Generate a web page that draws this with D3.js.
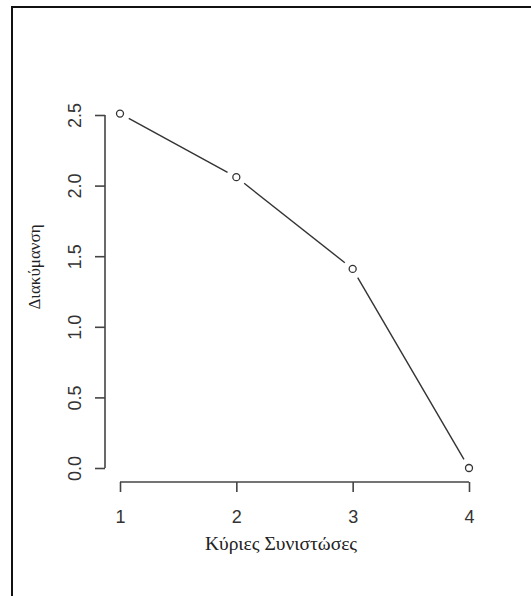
<!DOCTYPE html>
<html>
<head>
<meta charset="utf-8">
<script src="https://cdn.jsdelivr.net/npm/d3@7"></script>
<style>
  html, body { margin: 0; padding: 0; background: #fff; }
  svg { display: block; }
</style>
</head>
<body>
<svg id="chart" width="531" height="596"></svg>
<script>
const components = [1, 2, 3, 4];
const variance = [2.51, 2.06, 1.41, 0.0];
const xTicks = [1, 2, 3, 4];
const yTicks = [0.0, 0.5, 1.0, 1.5, 2.0, 2.5];
const xTitle = "Κύριες Συνιστώσες";
const yTitle = "Διακύμανση";

const svg = d3.select("#chart");

// outer frame (only top and left visible)
svg.append("rect")
  .attr("x", 12).attr("y", 7)
  .attr("width", 560).attr("height", 640)
  .attr("fill", "none").attr("stroke", "#111").attr("stroke-width", 2);

const x = d3.scaleLinear().domain([1, 4]).range([120, 469]);
const y = d3.scaleLinear().domain([0, 2.5]).range([468, 115]);

const tickFont = "'Liberation Sans', Arial, sans-serif";
const titleFont = "'Liberation Serif', 'Times New Roman', serif";

// x axis
const xAxisG = svg.append("g").attr("transform", "translate(0,482)")
  .call(d3.axisBottom(x).tickValues(xTicks).tickFormat(d3.format("d")).tickSize(10).tickSizeOuter(0));
xAxisG.select(".domain").attr("d", `M${x(1)},0H${x(4)}`);
xAxisG.selectAll("path,line").attr("stroke", "#444").attr("stroke-width", 1.6);
xAxisG.selectAll(".tick text")
  .attr("font-family", tickFont).attr("font-size", 18).attr("fill", "#333")
  .attr("y", 41).attr("dy", null);

// y axis
const yAxisG = svg.append("g").attr("transform", "translate(105,0)")
  .call(d3.axisLeft(y).tickValues(yTicks).tickFormat(d3.format(".1f")).tickSize(10).tickSizeOuter(0));
yAxisG.select(".domain").attr("d", `M0,${y(0)}V${y(2.5)}`);
yAxisG.selectAll("path,line").attr("stroke", "#444").attr("stroke-width", 1.6);
yAxisG.selectAll(".tick text")
  .attr("font-family", tickFont).attr("font-size", 18).attr("fill", "#333")
  .attr("x", null).attr("dy", null)
  .attr("text-anchor", "middle")
  .attr("transform", "translate(-30,0) rotate(-90)")
  .attr("dominant-baseline", "central");

// titles
svg.append("text")
  .attr("x", 281).attr("y", 550)
  .attr("text-anchor", "middle")
  .attr("font-family", titleFont).attr("font-size", 19.5).attr("fill", "#222")
  .text(xTitle);

svg.append("text")
  .attr("transform", "translate(40,267) rotate(-90)")
  .attr("text-anchor", "middle")
  .attr("font-family", titleFont).attr("font-size", 17).attr("fill", "#222")
  .text(yTitle);

// data
const pts = components.map((c, i) => [x(c), y(variance[i])]);
const gap = 10;
const segs = [];
for (let i = 0; i < pts.length - 1; i++) {
  const [x0, y0] = pts[i], [x1, y1] = pts[i + 1];
  const dx = x1 - x0, dy = y1 - y0, L = Math.hypot(dx, dy);
  const ux = dx / L, uy = dy / L;
  segs.push([x0 + ux * gap, y0 + uy * gap, x1 - ux * gap, y1 - uy * gap]);
}
svg.append("g").selectAll("line").data(segs).join("line")
  .attr("x1", d => d[0]).attr("y1", d => d[1])
  .attr("x2", d => d[2]).attr("y2", d => d[3])
  .attr("stroke", "#333").attr("stroke-width", 1.4);

svg.append("g").selectAll("circle").data(pts).join("circle")
  .attr("cx", d => d[0]).attr("cy", d => d[1]).attr("r", 3.5)
  .attr("fill", "none").attr("stroke", "#333").attr("stroke-width", 1.3);
</script>
</body>
</html>
